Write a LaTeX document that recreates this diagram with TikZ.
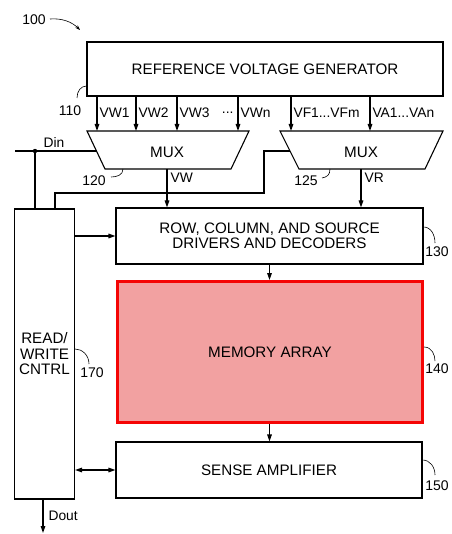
\documentclass[tikz,border=0pt]{standalone}
\usepackage{fontspec}
\setmainfont{Liberation Sans}
\usetikzlibrary{arrows.meta}
\definecolor{memfill}{RGB}{242,161,161}
\definecolor{memred}{RGB}{245,5,5}
\begin{document}
\begin{tikzpicture}[x=1pt,y=-1pt,line width=1.1pt,
  box/.style={draw, inner sep=0pt, align=center, font=\fontsize{15.2}{15.5}\selectfont},
  lbl/.style={inner sep=0pt, font=\fontsize{13.8}{14}\selectfont},
  num/.style={inner sep=0pt, font=\fontsize{14}{14}\selectfont},
  arr/.style={-{Triangle[length=7pt,width=4.6pt]}},
  arrb/.style={{Triangle[length=7pt,width=4.6pt]}-{Triangle[length=7pt,width=4.6pt]}},
  lead/.style={line width=0.6pt}]
\useasboundingbox (0,0) rectangle (451,534);

% boxes
\node[box, minimum width=356pt, minimum height=54pt] (rvg) at (265,69) {REFERENCE VOLTAGE GENERATOR};
\node[box, minimum width=307pt, minimum height=56pt] (row) at (269.5,236) {ROW, COLUMN, AND SOURCE\\DRIVERS AND DECODERS};
\node[box, draw=memred, line width=3pt, fill=memfill, minimum width=305pt, minimum height=141pt] (mem) at (270,352) {MEMORY ARRAY};
\node[box, minimum width=306pt, minimum height=56pt] (sa) at (269,470) {SENSE AMPLIFIER};
\node[box, minimum width=60pt, minimum height=290pt] (rw) at (44.5,354) {READ/\\WRITE\\CNTRL};

% multiplexers
\draw (87,131) -- (249,131) -- (231,169) -- (105,169) -- cycle;
\node[box, draw=none] (mux1) at (167,152) {MUX};
\draw (280,131) -- (443,131) -- (425,169) -- (299,169) -- cycle;
\node[box, draw=none] (mux2) at (361,152) {MUX};

% inputs of the multiplexers
\coordinate (i1) at (97,131);
\coordinate (i2) at (136,131);
\coordinate (i3) at (177,131);
\coordinate (i4) at (238,131);
\coordinate (i5) at (291,131);
\coordinate (i6) at (370,131);
\foreach \c in {i1,i2,i3,i4,i5,i6} \draw[arr] (rvg.south -| \c) -- (\c);
\node[lbl, anchor=west] at (99,113) {VW1};
\node[lbl, anchor=west] at (138,113) {VW2};
\node[lbl, anchor=west] at (179,113) {VW3};
\node[lbl, anchor=east] at (234,113) {...};
\node[lbl, anchor=west] at (240,113) {VWn};
\node[lbl, anchor=west] at (293,113) {VF1...VFm};
\node[lbl, anchor=west] at (372,113) {VA1...VAn};

% outputs of the multiplexers
\coordinate (o1) at (167,169);
\coordinate (o2) at (361,169);
\draw[arr] (o1) -- (o1 |- row.north);
\draw[arr] (o2) -- (o2 |- row.north);
\node[lbl, anchor=west] at (170,178) {VW};
\node[lbl, anchor=west] at (364,178) {VR};

% Din and control lines
\coordinate (din) at (15,151);
\coordinate (m1l) at (96.5,151);
\coordinate (dot) at (35,151);
\draw (din) -- (m1l);
\fill (dot) circle (2.2pt);
\draw (dot) -- (dot |- rw.north);
\node[lbl, anchor=west] at (43,143) {Din};
\coordinate (m2l) at (289.5,151);
\coordinate (k1) at (264,151);
\coordinate (k2) at (264,193);
\coordinate (k3) at (55,193);
\draw (m2l) -- (k1) -- (k2) -- (k3) -- (k3 |- rw.north);

% block connections
\draw[arr] (rw.east |- row.west) -- (row.west);
\draw[arr] (row.south) -- (row.south |- mem.north);
\draw[arr] (mem.south -| row.south) -- (row.south |- sa.north);
\draw[arrb] (rw.east |- sa.west) -- (sa.west);
\coordinate (dout) at (43,533);
\draw[arr] (rw.south -| dout) -- (dout);
\node[lbl, anchor=west] at (48,516) {Dout};

% reference numerals
\node[num] at (34,20) {100};
\draw[lead, -{Stealth[length=5pt,width=3.5pt]}] (50,19) .. controls (62,18) and (72,22) .. (80,30);
\node[num] at (70,111) {110};
\draw[lead] (rvg.south west |- 0,86) .. controls (81,86) and (77,91) .. (77,98);
\node[num] at (94,181) {120};
\draw[lead] (123,169) .. controls (123,175) and (117,177) .. (111,177);
\node[num] at (306,181) {125};
\draw[lead] (330,169) .. controls (330,175) and (327,177) .. (322,178);
\node[num] at (437,252) {130};
\draw[lead] (row.east |- 0,227) .. controls (431,227) and (435,235) .. (435,243);
\node[num] at (437,369) {140};
\draw[lead] (mem.east |- 0,347) .. controls (432,347) and (435,355) .. (435,361);
\node[num] at (437,486) {150};
\draw[lead] (sa.east |- 0,460) .. controls (430,460) and (435,467) .. (435,475);
\node[num] at (92,373) {170};
\draw[lead] (rw.east |- 0,349) .. controls (82,349) and (89,355) .. (89,364);
\end{tikzpicture}
\end{document}
